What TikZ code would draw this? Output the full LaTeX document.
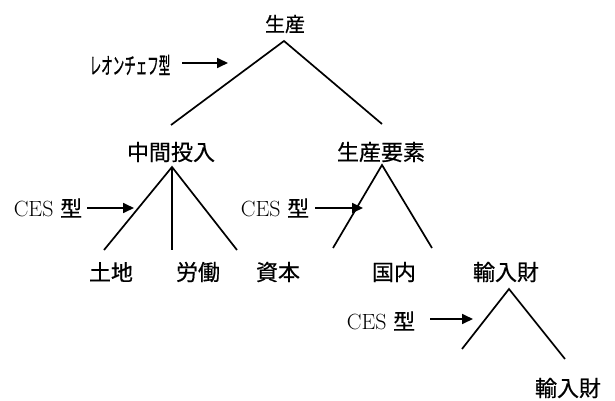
\documentclass[tikz,border=0pt]{standalone}
\usepackage{fontspec}
\newfontfamily\cjk[FakeBold=0.6]{Noto Sans CJK JP}
\newfontfamily\cjkc[FakeBold=1.2]{Noto Sans CJK JP}
\usetikzlibrary{arrows.meta}
\begin{document}
\begin{tikzpicture}[x=1pt,y=-1pt,
  jp/.style={font=\cjk\fontsize{22}{22}\selectfont, inner sep=0pt},
  ces/.style={font=\fontsize{22}{22}\selectfont, inner sep=0pt},
  branch/.style={line width=1.7pt},
  arr/.style={line width=1.7pt,-{Triangle[length=11pt,width=10pt]}}]
\useasboundingbox (0,0) rectangle (615,401);
% nodes
\node[jp,font=\cjk\fontsize{20}{20}\selectfont] (top) at (285,24) {生産};
\node[jp] (mid) at (171,152) {中間投入};
\node[jp] (fac) at (381,152) {生産要素};
\node[jp] (land) at (111,272) {土地};
\node[jp] (lab) at (198,272) {労働};
\node[jp] (cap) at (278,272) {資本};
\node[jp] (dom) at (394,272) {国内};
\node[jp] (imp) at (506,272) {輸入財};
\node[jp] (imp2) at (568,388) {輸入財};
\node[inner sep=0pt,font=\cjkc\fontsize{23}{23}\selectfont] (leo) at (130,65) {\scalebox{0.5}[1]{レオンチェフ型}};
\node[ces] (ces1) at (48,208) {CES {\cjk 型}};
\node[ces] (ces2) at (275,208) {CES {\cjk 型}};
\node[ces] (ces3) at (381,321) {CES {\cjk 型}};
% branch coordinates
\coordinate (a0) at (284,41);
\coordinate (e01) at (171,125);
\coordinate (e02) at (382,124);
\coordinate (a1) at (172,167);
\coordinate (e11) at (104,250);
\coordinate (e12) at (172,250);
\coordinate (e13) at (237,250);
\coordinate (a2) at (382,165);
\coordinate (e21) at (333,248);
\coordinate (e22) at (432,248);
\coordinate (a3) at (509,289);
\coordinate (e31) at (462,349);
\coordinate (e32) at (565,359);
\draw[branch] (e01) -- (a0) -- (e02);
\draw[branch] (e11) -- (a1) -- (e13);
\draw[branch] (a1) -- (e12);
\draw[branch] (e21) -- (a2) -- (e22);
\draw[branch] (e31) -- (a3) -- (e32);
% arrows
\coordinate (s0) at (182,63); \coordinate (t0) at (228,63);
\coordinate (s1) at (87,208); \coordinate (t1) at (134,208);
\coordinate (s2) at (315,208); \coordinate (t2) at (363,208);
\coordinate (s3) at (430,319); \coordinate (t3) at (473,319);
\draw[arr] (s0) -- (t0);
\draw[arr] (s1) -- (t1);
\draw[arr] (s2) -- (t2);
\draw[arr] (s3) -- (t3);
\end{tikzpicture}
\end{document}
